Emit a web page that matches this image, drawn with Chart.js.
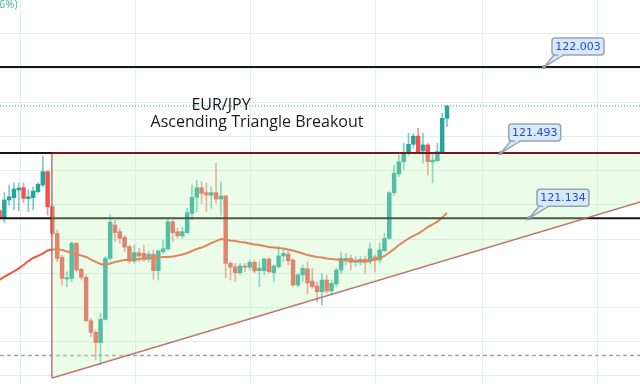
<!DOCTYPE html>
<html>
<head>
<meta charset="utf-8">
<script src="https://cdn.jsdelivr.net/npm/chart.js@4"></script>
<style>
  html, body { margin: 0; padding: 0; background: #fff; }
  #wrap { position: relative; width: 640px; height: 384px; overflow: hidden; }
</style>
</head>
<body>
<div id="wrap"><canvas id="chart" width="640" height="384"></canvas></div>
<script>
// EUR/JPY candles (one entry per bar, left to right)
const opens = [
  121.163, 121.118, 121.225, 121.239, 121.284, 121.297, 121.233, 121.239, 121.274, 121.313,
  121.391, 121.186, 121.030, 120.890, 120.763, 120.767, 120.972, 120.820, 120.773, 120.519,
  120.451, 120.391, 120.527, 120.884, 121.079, 121.040, 121.007, 120.952, 120.868, 120.917,
  120.913, 120.878, 120.908, 120.812, 120.923, 120.939, 121.098, 121.040, 121.015, 121.034,
  121.147, 121.241, 121.297, 121.268, 121.254, 121.268, 121.231, 121.249, 120.855, 120.835,
  120.800, 120.839, 120.832, 120.861, 120.812, 120.812, 120.880, 120.800, 120.835, 120.898,
  120.909, 120.874, 120.728, 120.787, 120.822, 120.751, 120.722, 120.689, 120.757, 120.693,
  120.734, 120.816, 120.870, 120.884, 120.861, 120.861, 120.878, 120.863, 120.892, 120.874,
  120.929, 121.001, 121.268, 121.377, 121.449, 121.498, 121.551, 121.599, 121.512, 121.547,
  121.447, 121.455, 121.508, 121.703
];
const highs = [
  121.173, 121.268, 121.313, 121.325, 121.326, 121.325, 121.284, 121.303, 121.326, 121.482,
  121.396, 121.196, 121.050, 120.903, 120.806, 120.981, 120.978, 120.826, 120.787, 120.533,
  120.465, 120.563, 120.894, 121.137, 121.108, 121.060, 121.020, 120.962, 120.962, 120.943,
  120.962, 120.923, 120.933, 120.933, 120.991, 121.112, 121.108, 121.060, 121.065, 121.177,
  121.313, 121.342, 121.332, 121.323, 121.303, 121.440, 121.332, 121.254, 120.864, 120.855,
  120.855, 120.855, 120.874, 120.874, 120.864, 120.884, 120.890, 120.845, 120.956, 120.943,
  120.933, 120.884, 120.796, 120.845, 120.864, 120.826, 120.747, 120.796, 120.787, 120.757,
  120.826, 120.917, 120.913, 120.903, 120.894, 120.894, 120.898, 120.974, 120.903, 120.974,
  121.030, 121.274, 121.430, 121.488, 121.557, 121.615, 121.615, 121.644, 121.615, 121.557,
  121.498, 121.557, 121.732, 121.781
];
const lows = [
  121.114, 121.092, 121.196, 121.167, 121.163, 121.209, 121.157, 121.167, 121.264, 121.303,
  121.137, 121.015, 120.864, 120.728, 120.718, 120.747, 120.806, 120.757, 120.513, 120.426,
  120.289, 120.260, 120.523, 120.874, 120.981, 120.972, 120.923, 120.855, 120.855, 120.864,
  120.864, 120.864, 120.761, 120.757, 120.913, 120.933, 120.981, 121.001, 121.001, 121.030,
  121.108, 121.157, 121.206, 121.157, 121.177, 121.206, 121.137, 120.771, 120.757, 120.747,
  120.787, 120.806, 120.816, 120.800, 120.718, 120.787, 120.796, 120.747, 120.826, 120.864,
  120.845, 120.718, 120.718, 120.747, 120.675, 120.709, 120.630, 120.611, 120.680, 120.670,
  120.718, 120.796, 120.845, 120.816, 120.835, 120.845, 120.796, 120.851, 120.804, 120.857,
  120.923, 120.995, 121.254, 121.361, 121.405, 121.488, 121.528, 121.498, 121.440, 121.371,
  121.326, 121.449, 121.498, 121.654
];
const closes = [
  121.122, 121.225, 121.244, 121.289, 121.295, 121.235, 121.244, 121.278, 121.317, 121.391,
  121.186, 121.030, 120.884, 120.767, 120.771, 120.972, 120.816, 120.773, 120.519, 120.451,
  120.391, 120.527, 120.884, 121.096, 121.034, 121.001, 120.949, 120.868, 120.917, 120.898,
  120.878, 120.908, 120.812, 120.927, 120.940, 121.098, 121.034, 121.016, 121.040, 121.151,
  121.241, 121.297, 121.264, 121.254, 121.268, 121.231, 121.249, 120.855, 120.832, 120.800,
  120.839, 120.832, 120.861, 120.810, 120.826, 120.880, 120.806, 120.839, 120.898, 120.913,
  120.870, 120.728, 120.787, 120.826, 120.740, 120.719, 120.689, 120.757, 120.693, 120.738,
  120.816, 120.884, 120.884, 120.861, 120.874, 120.878, 120.861, 120.939, 120.874, 120.933,
  121.001, 121.268, 121.381, 121.449, 121.498, 121.551, 121.599, 121.508, 121.547, 121.449,
  121.459, 121.508, 121.703, 121.775
];
// moving average (orange line)
const maValues = [
  120.760, 120.775, 120.792, 120.807, 120.825, 120.845, 120.868, 120.886, 120.898, 120.912,
  120.930, 120.936, 120.936, 120.933, 120.924, 120.918, 120.909, 120.901, 120.892, 120.877,
  120.863, 120.851, 120.845, 120.854, 120.863, 120.868, 120.874, 120.874, 120.877, 120.880,
  120.883, 120.886, 120.886, 120.889, 120.892, 120.892, 120.895, 120.901, 120.906, 120.915,
  120.927, 120.939, 120.947, 120.959, 120.974, 120.985, 120.997, 120.994, 120.988, 120.985,
  120.980, 120.977, 120.971, 120.965, 120.962, 120.956, 120.950, 120.947, 120.944, 120.942,
  120.936, 120.930, 120.921, 120.912, 120.903, 120.898, 120.892, 120.889, 120.883, 120.880,
  120.877, 120.874, 120.871, 120.871, 120.868, 120.868, 120.868, 120.871, 120.877, 120.883,
  120.898, 120.918, 120.939, 120.962, 120.980, 121.000, 121.015, 121.029, 121.047, 121.067,
  121.082, 121.099, 121.123, 121.149
];

// drawn levels and their labels
const levelPrices = [122.003, 121.500, 121.118];
const levelLabels = ['122.003', '121.493', '121.134'];
const lastPrice = 121.775;
const supportDashed = 120.315;

// ascending triangle (bar index, price)
const triangleTop = [{ x: 10.91, y: 121.500 }, { x: 133.1, y: 121.500 }];
const triangleBase = [{ x: 10.91, y: 120.184 }, { x: 133.1, y: 121.213 }];
const triangleSide = [{ x: 10.91, y: 121.500 }, { x: 10.91, y: 120.184 }];

const titleLines = ['EUR/JPY', 'Ascending Triangle Breakout'];

const X_MIN = 0.104, X_MAX = 133.104;
const Y_MIN = 120.149, Y_MAX = 122.395;
const UP = '#26a69a', DOWN = '#ef5350';

const gridPrices = [120.2, 120.4, 120.6, 120.8, 121.0, 121.2, 121.4, 121.6, 121.8, 122.0, 122.2];
const gridBars = [4.26, 28.16, 52.06, 78.03, 100.27, 124.2];

const isUp = opens.map((o, i) => closes[i] >= o);
const bodies = opens.map((o, i) => ({ x: i, y: [o, closes[i]] }));
const wicks = lows.map((l, i) => ({ x: i, y: [l, highs[i]] }));
const maLine = maValues.map((v, i) => ({ x: i, y: v }));
const flat = (p) => [{ x: X_MIN, y: p }, { x: X_MAX, y: p }];

const lineBase = { type: 'line', pointRadius: 0, fill: false, tension: 0 };

const datasets = [
  // 0: triangle top edge, filled down to the rising base (dataset 1)
  { ...lineBase, data: triangleTop, borderColor: '#6e1c1c', borderWidth: 2,
    fill: 1, backgroundColor: 'rgba(190,245,180,0.3)', order: 1 },
  // 1: rising base
  { ...lineBase, data: triangleBase, borderColor: 'rgba(180,70,70,0.85)', borderWidth: 1.5, order: 1 },
  // 2: left side
  { ...lineBase, data: triangleSide, borderColor: 'rgba(180,70,70,0.85)', borderWidth: 1.5, order: 1 },
  // black horizontal levels
  ...levelPrices.map(p => ({ ...lineBase, data: flat(p), borderColor: '#161616', borderWidth: 2, order: 2 })),
  { ...lineBase, data: flat(lastPrice), borderColor: UP, borderWidth: 1, borderDash: [1, 2], order: 0 },
  { ...lineBase, data: flat(supportDashed), borderColor: '#a3a3a3', borderWidth: 1.5, borderDash: [4, 3], order: 6 },
  { ...lineBase, data: maLine, borderColor: '#ef573b', borderWidth: 2, order: 3 },
  { type: 'bar', data: bodies, grouped: false, barThickness: 3.8, borderWidth: 0,
    backgroundColor: isUp.map(u => u ? UP : DOWN), order: 4 },
  { type: 'bar', data: wicks, grouped: false, barThickness: 1, borderWidth: 0,
    backgroundColor: isUp.map(u => u ? 'rgba(38,166,154,0.6)' : 'rgba(239,83,80,0.6)'), order: 5 }
];

const backdrop = {
  id: 'backdrop',
  beforeDraw(chart) {
    const { ctx, width, height } = chart;
    const { x, y } = chart.scales;
    ctx.save();
    ctx.fillStyle = '#fff';
    ctx.fillRect(0, 0, width, height);
    ctx.strokeStyle = '#e4ecf3';
    ctx.lineWidth = 1;
    ctx.beginPath();
    gridPrices.forEach(p => {
      const py = Math.round(y.getPixelForValue(p)) + 0.5;
      ctx.moveTo(0, py); ctx.lineTo(width, py);
    });
    gridBars.forEach(b => {
      const px = Math.round(x.getPixelForValue(b)) + 0.5;
      ctx.moveTo(px, 0); ctx.lineTo(px, height);
    });
    ctx.stroke();
    ctx.restore();
  }
};

// price callouts: anchor bar index on each level
const callouts = [
  { text: levelLabels[0], bar: 113.15, price: levelPrices[0] },
  { text: levelLabels[1], bar: 104.16, price: levelPrices[1] },
  { text: levelLabels[2], bar: 110.03, price: levelPrices[2] }
];

function drawCallout(ctx, ax, ay, text) {
  const bx = ax + 8, by = ay - 29, bw = 52, bh = 17;
  ctx.lineWidth = 1.5;
  ctx.strokeStyle = '#9aa3ac';
  ctx.fillStyle = '#d5ebfb';
  // tail
  ctx.beginPath();
  ctx.moveTo(bx + 3, by + bh - 1);
  ctx.lineTo(ax, ay);
  ctx.lineTo(bx + 13, by + bh - 1);
  ctx.closePath();
  ctx.fill(); ctx.stroke();
  // box
  ctx.beginPath();
  ctx.roundRect(bx, by, bw, bh, 3);
  ctx.fill(); ctx.stroke();
  ctx.beginPath();
  ctx.moveTo(bx + 4.5, by + bh - 2);
  ctx.lineTo(bx + 11.5, by + bh - 2);
  ctx.lineTo(bx + 8, by + bh + 2);
  ctx.closePath();
  ctx.fill();
  // anchor dot
  ctx.fillStyle = '#8e979f';
  ctx.beginPath();
  ctx.arc(ax, ay, 2, 0, Math.PI * 2);
  ctx.fill();
  ctx.fillStyle = '#2f45d8';
  ctx.font = '11px "DejaVu Sans", sans-serif';
  ctx.textAlign = 'center';
  ctx.textBaseline = 'middle';
  ctx.fillText(text, bx + bw / 2, by + bh / 2 + 0.5);
}

const overlay = {
  id: 'overlay',
  afterDatasetsDraw(chart) {
    const { ctx } = chart;
    const { x, y } = chart.scales;
    ctx.save();
    callouts.forEach(c => drawCallout(ctx, x.getPixelForValue(c.bar), y.getPixelForValue(c.price), c.text));

    ctx.fillStyle = '#1a1a1a';
    ctx.font = '16px "Open Sans", sans-serif';
    ctx.textAlign = 'center';
    ctx.textBaseline = 'alphabetic';
    ctx.fillText(titleLines[0], 221, 110);
    ctx.fillText(titleLines[1], 257, 127);

    ctx.fillStyle = '#3fb3a8';
    ctx.font = '11px "Open Sans", sans-serif';
    ctx.textAlign = 'left';
    ctx.fillText('6%)', -1, 8);
    ctx.restore();
  }
};

new Chart(document.getElementById('chart'), {
  type: 'bar',
  data: { datasets },
  options: {
    responsive: false,
    animation: false,
    layout: { padding: 0 },
    plugins: { legend: { display: false }, tooltip: { enabled: false } },
    scales: {
      x: { type: 'linear', display: false, min: X_MIN, max: X_MAX, offset: false },
      y: { type: 'linear', display: false, min: Y_MIN, max: Y_MAX }
    }
  },
  plugins: [backdrop, overlay]
});
</script>
</body>
</html>
